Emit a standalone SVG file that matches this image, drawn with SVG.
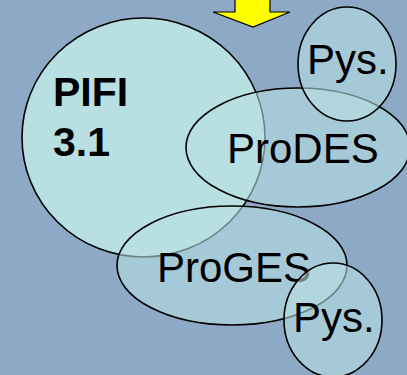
<svg xmlns="http://www.w3.org/2000/svg" width="407" height="375" viewBox="0 0 407 375">
<style>
.shape{stroke:#000;stroke-width:1.6}
.solid{fill:#B8E0E3}
.trans{fill:#B8E0E3;fill-opacity:0.58}
text{font-family:"Liberation Sans",Arial,sans-serif;fill:#000}
.lbl{font-size:42px}
.bold{font-size:41px;font-weight:bold}
</style>
<rect x="0" y="0" width="407" height="375" fill="#8EA9C6"/>
<g id="arrow">
<polygon points="235,-2 270,-2 270,12 290,12 253,27 213,12 235,12" fill="#FFFF00" stroke="#000" stroke-width="1.2"/>
</g>
<g id="connectors"></g>
<g id="pifi">
<ellipse class="shape solid" cx="143.5" cy="137.5" rx="121.5" ry="119.5"/>
<text class="bold" x="53" y="106">PIFI</text>
<text class="bold" x="53" y="156">3.1</text>
</g>
<g id="prodes">
<ellipse class="shape trans" cx="298" cy="147.5" rx="112" ry="59.5"/>
<text class="lbl" x="227" y="163">ProDES</text>
</g>
<g id="pys-top">
<ellipse class="shape trans" cx="347" cy="64" rx="49" ry="57"/>
<text class="lbl" x="307" y="74">Pys.</text>
</g>
<g id="proges">
<ellipse class="shape trans" cx="232" cy="265.5" rx="115" ry="59.5"/>
<text class="lbl" x="157" y="282">ProGES</text>
</g>
<g id="pys-bottom">
<ellipse class="shape trans" cx="333" cy="320" rx="49" ry="57"/>
<text class="lbl" x="293" y="332">Pys.</text>
</g>
</svg>
